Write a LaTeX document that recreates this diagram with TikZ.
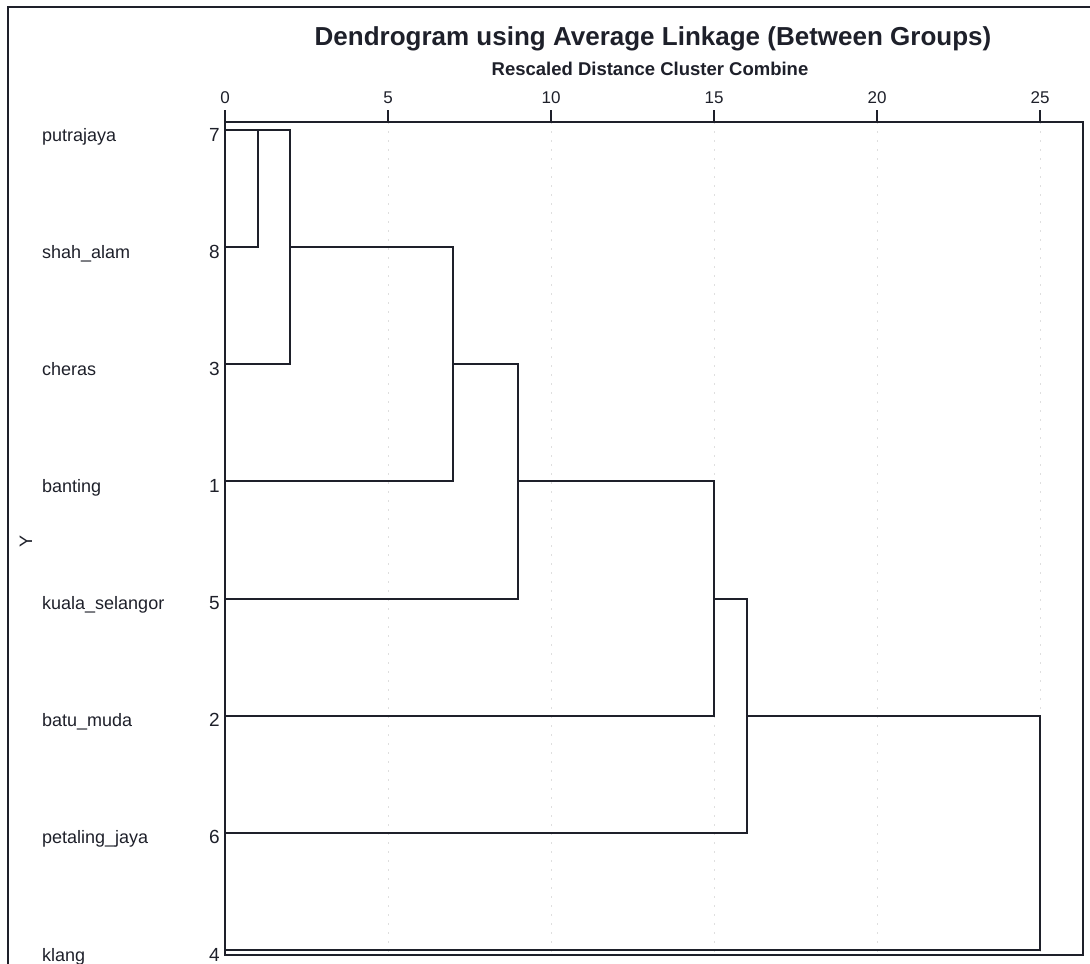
\documentclass[tikz,border=0pt]{standalone}
\usepackage{fontspec}
\setmainfont{Liberation Sans}
\definecolor{ink}{RGB}{30,32,42}

\begin{document}
\begin{tikzpicture}[
        % 像素坐标: x 向右, y 向下
        x=1pt, y=-1pt,
        frame/.style={line width=1.3pt, ink},
        link/.style={line width=2pt, ink, line join=miter},
        guide/.style={gray!25, line width=0.7pt, dash pattern=on 2pt off 7pt},
        tickmark/.style={line width=1.3pt, ink},
        leafname/.style={anchor=base west, inner sep=0pt, font=\fontsize{18}{20}\selectfont, ink},
        leafnum/.style={anchor=base east, inner sep=0pt, font=\fontsize{19}{21}\selectfont, ink},
        ticklabel/.style={anchor=base, inner sep=0pt, font=\fontsize{17}{19}\selectfont, ink}
    ]

    % --- 参数定义 ---
    \def\xo{225}       % 距离 0 的横坐标
    \def\ux{32.6}      % 单位距离
    \def\rowA{130}     % 第一行
    \def\rowH{117.15}  % 行距
    \def\yTop{122}     % 图框上沿
    \def\yBot{955}     % 图框下沿
    \def\xRight{1083}  % 图框右沿

    \useasboundingbox (0,0) rectangle (1090,964);

    % --- 1. 外框 ---
    \draw[frame] (8,964) -- (8,7) -- (1090,7);

    % --- 2. 标题 ---
    \node[anchor=base, inner sep=0pt, font=\bfseries\fontsize{26}{30}\selectfont, ink] (title) at (653,45) {Dendrogram using Average Linkage (Between Groups)};
    \node[anchor=base, inner sep=0pt, font=\bfseries\fontsize{18.5}{21}\selectfont, ink] (subtitle) at (650,75) {Rescaled Distance Cluster Combine};

    % --- 3. 刻度与网格 ---
    \foreach \d in {0,5,...,25} {
        \pgfmathsetmacro{\xd}{\xo+\ux*\d}
        \draw[guide] (\xd,\yTop) -- (\xd,\yBot);
        \draw[tickmark] (\xd,110) -- (\xd,\yTop);
        \node[ticklabel] (t\d) at (\xd,103) {\d};
    }

    % --- 4. 图框 ---
    \draw[frame] (\xo,\yTop) rectangle (\xRight,\yBot);

    % --- 5. 叶子标签 ---
    \foreach \i/\c/\lab in {1/7/putrajaya, 2/8/shah\_alam, 3/3/cheras, 4/1/banting,
                            5/5/kuala\_selangor, 6/2/batu\_muda, 7/6/petaling\_jaya, 8/4/klang} {
        \pgfmathsetmacro{\yi}{\rowA+\rowH*(\i-1)}
        \coordinate (r\i) at (\xo,\yi);
        \node[leafname] (lab\c) at (42,\yi+11) {\lab};
        \node[leafnum] (num\c) at (220,\yi+11) {\c};
    }
    \node[rotate=90, inner sep=0pt, font=\fontsize{18}{20}\selectfont, ink] (yname) at (26,541) {Y};

    % --- 6. 合并距离 ---
    \foreach \d [count=\k from 0] in {0,1,2,7,9,15,16,25}
        \coordinate (m\k) at ({\xo+\ux*\d},\yTop);

    % --- 7. 树状连线 ---
    % 每次合并: 新叶子横线 -> 竖线 -> 接上一簇的横线
    \foreach \k in {1,...,7} {
        \pgfmathtruncatemacro{\knext}{\k+1}
        \pgfmathtruncatemacro{\kprev}{\k-1}
        \pgfmathtruncatemacro{\kup}{max(\k-1,1)}
        \draw[link] (r\knext) -- (r\knext -| m\k) -- (r\kup -| m\k) -- (r\kup -| m\kprev);
    }

\end{tikzpicture}
\end{document}
